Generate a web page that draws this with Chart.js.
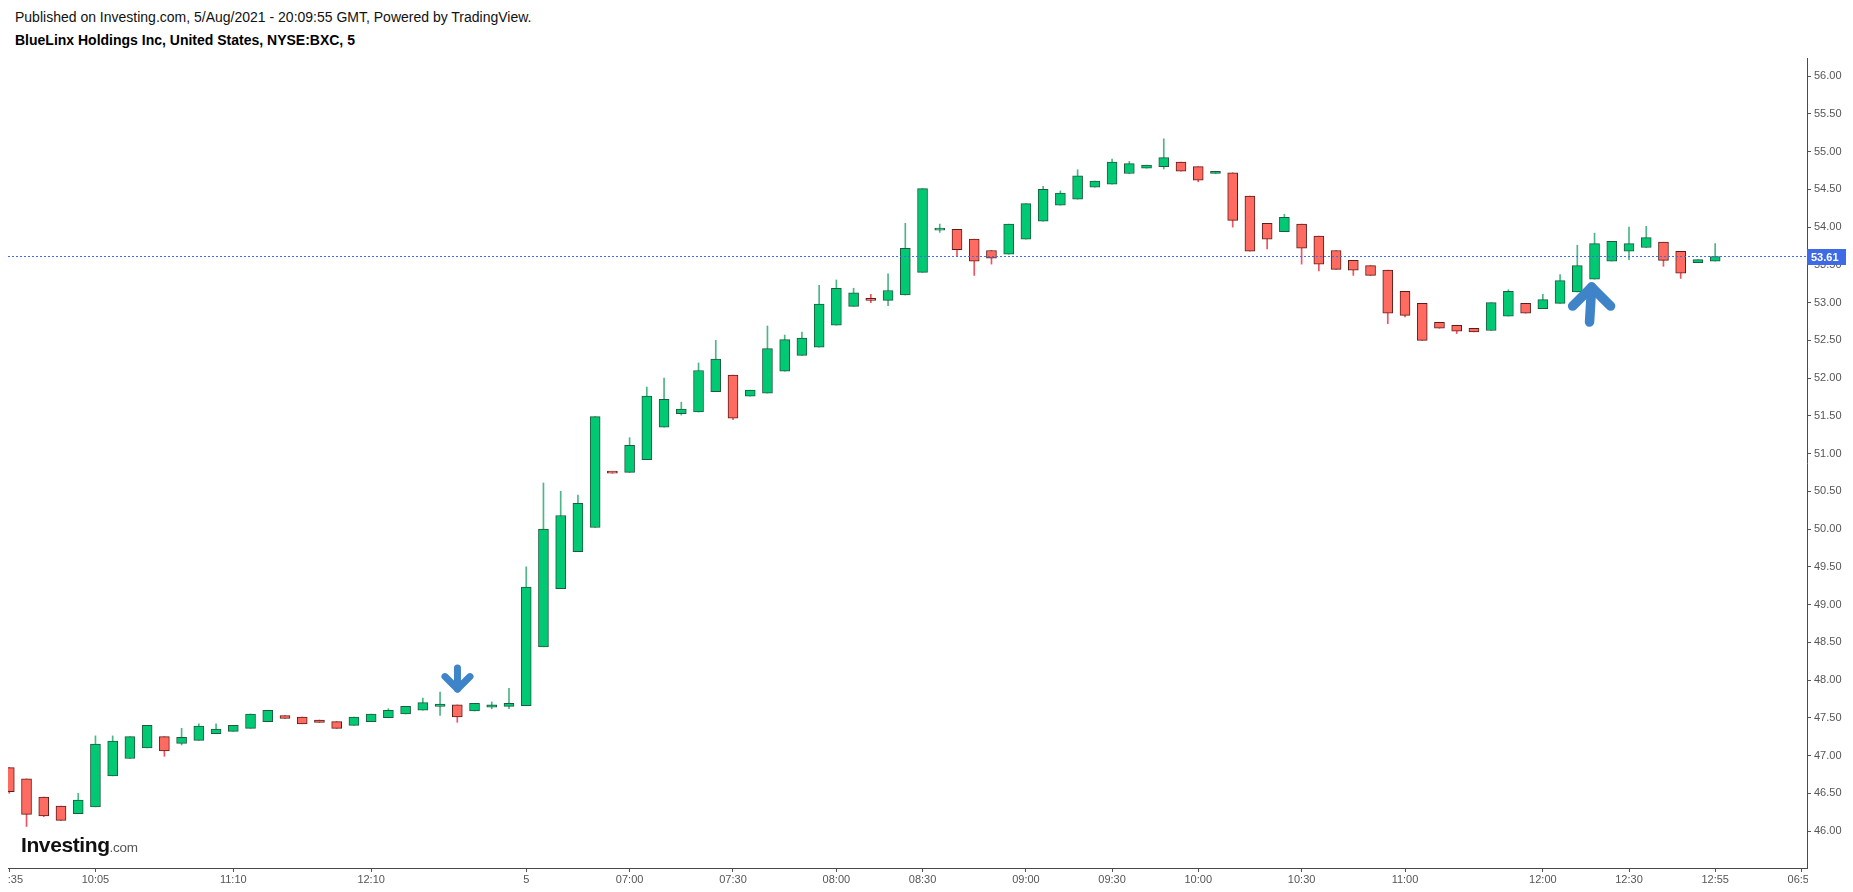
<!DOCTYPE html>
<html>
<head>
<meta charset="utf-8">
<title>BlueLinx Holdings Inc, United States, NYSE:BXC, 5</title>
<script src="https://cdn.jsdelivr.net/npm/chart.js@4.4.1/dist/chart.umd.min.js"></script>
<style>
  html, body { margin: 0; padding: 0; background: #fff; }
  body { width: 1853px; height: 892px; position: relative; overflow: hidden;
         font-family: 'Liberation Sans', Arial, sans-serif; }
  #chart { position: absolute; left: 8px; top: 0; }
  .hdr { position: absolute; left: 15px; font-size: 14px; line-height: 16px; white-space: nowrap; color: #111; }
  .hdr.title { font-weight: bold; color: #000; }
  #logo { position: absolute; left: 21px; top: 834px; white-space: nowrap; line-height: 21px; }
  #logo b { font-size: 21px; letter-spacing: -0.4px; color: #111; }
  #logo span { font-size: 13.5px; color: #555; letter-spacing: -0.3px; }
</style>
</head>
<body>
<div class="hdr" style="top:9px">Published on Investing.com, 5/Aug/2021 - 20:09:55 GMT, Powered by TradingView.</div>
<div class="hdr title" style="top:32px">BlueLinx Holdings Inc, United States, NYSE:BXC, 5</div>
<canvas id="chart" width="1845" height="892" style="width:1845px;height:892px"></canvas>
<div id="logo"><b>Investing</b><span>.com</span></div>
<script>
// 5-minute candles (one entry per bar)
const opens = [
  46.84, 46.69, 46.45, 46.33, 46.23, 46.32, 46.73, 46.96, 47.10, 47.25,
  47.16, 47.20, 47.29, 47.32, 47.36, 47.45, 47.53, 47.51, 47.47, 47.45,
  47.40, 47.45, 47.50, 47.55, 47.60, 47.65, 47.67, 47.59, 47.64, 47.65,
  47.66, 48.44, 49.21, 49.70, 50.02, 50.75, 50.75, 50.92, 51.35, 51.53,
  51.55, 51.82, 52.04, 51.76, 51.80, 52.09, 52.30, 52.41, 52.70, 52.95,
  53.04, 53.03, 53.10, 53.40, 53.96, 53.97, 53.84, 53.69, 53.64, 53.84,
  54.08, 54.29, 54.37, 54.53, 54.57, 54.71, 54.78, 54.80, 54.86, 54.80,
  54.71, 54.72, 54.41, 54.05, 53.94, 54.04, 53.88, 53.69, 53.56, 53.49,
  53.43, 53.15, 52.99, 52.74, 52.70, 52.66, 52.63, 52.82, 52.99, 52.92,
  52.99, 53.14, 53.31, 53.55, 53.68, 53.73, 53.80, 53.68, 53.53, 53.55
];
const highs = [
  46.84, 46.69, 46.45, 46.33, 46.50, 47.26, 47.26, 47.25, 47.40, 47.25,
  47.36, 47.42, 47.42, 47.40, 47.55, 47.60, 47.53, 47.51, 47.47, 47.45,
  47.51, 47.55, 47.62, 47.65, 47.76, 47.84, 47.67, 47.69, 47.71, 47.89,
  49.50, 50.61, 50.50, 50.45, 51.49, 50.75, 51.21, 51.88, 52.00, 51.68,
  52.20, 52.50, 52.04, 51.84, 52.69, 52.57, 52.61, 53.23, 53.30, 53.19,
  53.11, 53.38, 54.05, 54.51, 54.04, 53.97, 53.84, 53.69, 54.04, 54.31,
  54.54, 54.48, 54.76, 54.61, 54.90, 54.87, 54.82, 55.17, 54.86, 54.80,
  54.74, 54.72, 54.41, 54.05, 54.17, 54.04, 53.88, 53.69, 53.56, 53.49,
  53.43, 53.15, 52.99, 52.74, 52.70, 52.66, 53.00, 53.17, 52.99, 53.11,
  53.37, 53.76, 53.92, 53.81, 54.00, 54.01, 53.80, 53.68, 53.57, 53.78
];
const lows = [
  46.50, 46.06, 46.19, 46.14, 46.23, 46.32, 46.73, 46.96, 47.10, 46.99,
  47.14, 47.20, 47.29, 47.32, 47.36, 47.45, 47.49, 47.42, 47.44, 47.36,
  47.40, 47.45, 47.50, 47.55, 47.60, 47.53, 47.44, 47.59, 47.62, 47.62,
  47.66, 48.44, 49.21, 49.70, 50.02, 50.74, 50.75, 50.92, 51.35, 51.51,
  51.55, 51.82, 51.45, 51.76, 51.80, 52.09, 52.30, 52.41, 52.70, 52.95,
  53.00, 52.96, 53.10, 53.40, 53.93, 53.61, 53.36, 53.51, 53.64, 53.84,
  54.08, 54.29, 54.37, 54.53, 54.57, 54.71, 54.78, 54.77, 54.74, 54.60,
  54.71, 54.00, 53.68, 53.71, 53.94, 53.51, 53.42, 53.44, 53.36, 53.36,
  52.72, 52.81, 52.50, 52.66, 52.59, 52.61, 52.63, 52.82, 52.86, 52.92,
  52.99, 53.14, 53.31, 53.55, 53.57, 53.73, 53.48, 53.32, 53.53, 53.55
];
const closes = [
  46.52, 46.22, 46.20, 46.14, 46.41, 47.15, 47.19, 47.25, 47.40, 47.06,
  47.24, 47.39, 47.35, 47.40, 47.55, 47.60, 47.49, 47.42, 47.44, 47.36,
  47.51, 47.55, 47.60, 47.65, 47.70, 47.68, 47.51, 47.69, 47.67, 47.69,
  49.23, 50.00, 50.18, 50.34, 51.49, 50.74, 51.11, 51.76, 51.72, 51.59,
  52.10, 52.25, 51.47, 51.84, 52.39, 52.51, 52.53, 52.98, 53.19, 53.13,
  53.03, 53.16, 53.72, 54.51, 53.97, 53.70, 53.55, 53.59, 54.04, 54.31,
  54.50, 54.45, 54.68, 54.61, 54.86, 54.84, 54.82, 54.92, 54.74, 54.62,
  54.74, 54.09, 53.68, 53.84, 54.13, 53.72, 53.51, 53.44, 53.43, 53.36,
  52.86, 52.83, 52.50, 52.66, 52.62, 52.61, 53.00, 53.15, 52.86, 53.04,
  53.29, 53.49, 53.78, 53.81, 53.78, 53.86, 53.56, 53.39, 53.57, 53.61
];

// time-axis labels and the bar they sit under
const tickBars = [0, 5, 13, 21, 30, 36, 42, 48, 53, 59, 64, 69, 75, 81, 89, 94, 99, 104];
const tickLabels = ['09:35', '10:05', '11:10', '12:10', '5', '07:00', '07:30', '08:00', '08:30',
                    '09:00', '09:30', '10:00', '10:30', '11:00', '12:00', '12:30', '12:55', '06:55'];

// price axis labels
const priceTicks = [46.00, 46.50, 47.00, 47.50, 48.00, 48.50, 49.00, 49.50, 50.00, 50.50, 51.00,
                    51.50, 52.00, 52.50, 53.00, 53.50, 54.00, 54.50, 55.00, 55.50, 56.00];

// visible window
const X_MIN = -0.075, X_MAX = 104.33;
const Y_MIN = 45.51, Y_MAX = 56.24;

const UP = '#00c974', UP_EDGE = '#1e5a3e', UP_WICK = '#4db586';
const DOWN = '#ff6a61', DOWN_EDGE = '#5c1d18', DOWN_WICK = '#f0525f';
const PRICE_BLUE = '#3f6ae6';
const ARROW_BLUE = '#3f84c8';

const lastPrice = closes[closes.length - 1];
const isUp = i => closes[i] >= opens[i];

const bodyData = opens.map((o, i) => ({ x: i, y: [o, closes[i]] }));
const wickData = opens.map((o, i) => ({ x: i, y: [lows[i], highs[i]] }));

// drawn annotations (the two blue arrows), anchored in data space
const arrows = [
  { tipX: 26.01, tailX: 26.01, tip: 47.88, tail: 48.16, half: 12.5, width: 7 },
  { tipX: 91.83, tailX: 91.71, tip: 53.205, tail: 52.742, half: 19, width: 9.5 }
];

const overlay = {
  id: 'overlay',
  afterDatasetsDraw(chart) {
    // hide the part of the last time label that runs under the price axis
    const { ctx, chartArea } = chart;
    ctx.save();
    ctx.fillStyle = '#fff';
    ctx.fillRect(chartArea.right + 1, chartArea.bottom + 2, chart.width, chart.height);
    ctx.restore();
  },
  afterDraw(chart) {
    const { ctx, chartArea, scales: { x, y } } = chart;
    ctx.save();
    ctx.strokeStyle = ARROW_BLUE;
    ctx.lineCap = 'round';
    ctx.lineJoin = 'round';
    arrows.forEach(a => {
      const tx = x.getPixelForValue(a.tipX), ty = y.getPixelForValue(a.tip);
      const bx = x.getPixelForValue(a.tailX), by = y.getPixelForValue(a.tail);
      const dir = by > ty ? 1 : -1;
      ctx.lineWidth = a.width;
      ctx.beginPath();
      ctx.moveTo(bx, by);
      ctx.lineTo(tx, ty);
      ctx.stroke();
      ctx.beginPath();
      ctx.moveTo(tx - a.half, ty + dir * a.half);
      ctx.lineTo(tx, ty);
      ctx.lineTo(tx + a.half, ty + dir * a.half);
      ctx.stroke();
    });
    // last price tag on the axis
    const py = y.getPixelForValue(lastPrice);
    ctx.fillStyle = PRICE_BLUE;
    ctx.fillRect(chartArea.right, Math.round(py) - 8, 39, 16);
    ctx.fillStyle = '#fff';
    ctx.font = "bold 11px 'Liberation Sans', Arial, sans-serif";
    ctx.textBaseline = 'middle';
    ctx.textAlign = 'left';
    ctx.fillText(lastPrice.toFixed(2), chartArea.right + 4, Math.round(py) + 0.5);
    ctx.restore();
  }
};

Chart.defaults.font.family = "'Liberation Sans', Arial, sans-serif";
Chart.defaults.font.size = 11;
Chart.defaults.color = '#555';

new Chart(document.getElementById('chart'), {
  type: 'bar',
  data: {
    datasets: [
      {
        type: 'line',
        data: [{ x: X_MIN, y: lastPrice }, { x: X_MAX, y: lastPrice }],
        borderColor: PRICE_BLUE,
        borderWidth: 1,
        borderDash: [2, 2],
        pointRadius: 0,
        order: -1
      },
      {
        data: bodyData,
        grouped: false,
        barThickness: 10,
        minBarLength: 2,
        borderWidth: 1,
        borderSkipped: false,
        backgroundColor: ctx => isUp(ctx.dataIndex) ? UP : DOWN,
        borderColor: ctx => isUp(ctx.dataIndex) ? UP_EDGE : DOWN_EDGE,
        order: 0
      },
      {
        data: wickData,
        grouped: false,
        barThickness: 1,
        borderWidth: 0,
        backgroundColor: ctx => isUp(ctx.dataIndex) ? UP_WICK : DOWN_WICK,
        order: 1
      }
    ]
  },
  options: {
    responsive: false,
    animation: false,
    devicePixelRatio: 1,
    layout: { padding: { top: 58, left: 0, right: 0, bottom: 0 } },
    plugins: { legend: { display: false }, tooltip: { enabled: false } },
    scales: {
      x: {
        type: 'linear',
        min: X_MIN,
        max: X_MAX,
        offset: false,
        afterBuildTicks: s => { s.ticks = tickBars.map(v => ({ value: v })); },
        afterFit: s => { s.height = 24; s.paddingLeft = 0; s.paddingRight = 0; },
        grid: { offset: false, drawOnChartArea: false, drawTicks: true, tickLength: 4, tickColor: '#555' },
        border: { display: true, color: '#4a4a4a', width: 1 },
        ticks: {
          autoSkip: false,
          maxRotation: 0,
          padding: 1,
          color: '#555',
          callback: (v, i) => tickLabels[i]
        }
      },
      y: {
        type: 'linear',
        position: 'right',
        min: Y_MIN,
        max: Y_MAX,
        afterBuildTicks: s => { s.ticks = priceTicks.map(v => ({ value: v })); },
        afterFit: s => { s.width = 46; s.paddingTop = 0; s.paddingBottom = 0; },
        grid: { drawOnChartArea: false, drawTicks: true, tickLength: 4, tickColor: '#555' },
        border: { display: true, color: '#4a4a4a', width: 1 },
        ticks: {
          padding: 3,
          color: '#555',
          callback: v => Number(v).toFixed(2)
        }
      }
    }
  },
  plugins: [overlay]
});
</script>
</body>
</html>
